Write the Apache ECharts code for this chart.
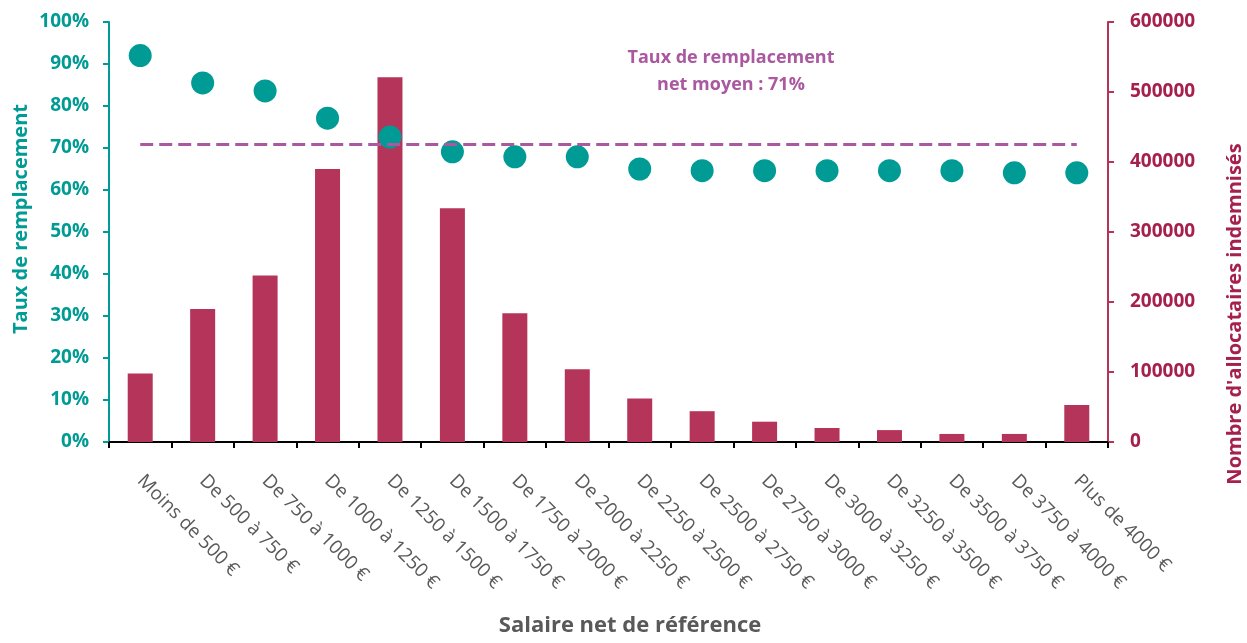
<!DOCTYPE html>
<html>
<head>
<meta charset="utf-8">
<script src="https://cdn.jsdelivr.net/npm/echarts@6/dist/echarts.min.js"></script>
<style>
  html, body { margin: 0; padding: 0; background: #fff; }
  #main { width: 1247px; height: 643px; }
</style>
</head>
<body>
<div id="main"></div>
<script>
var categories = ['Moins de 500 €', 'De 500 à 750 €', 'De 750 à 1000 €', 'De 1000 à 1250 €',
  'De 1250 à 1500 €', 'De 1500 à 1750 €', 'De 1750 à 2000 €', 'De 2000 à 2250 €',
  'De 2250 à 2500 €', 'De 2500 à 2750 €', 'De 2750 à 3000 €', 'De 3000 à 3250 €',
  'De 3250 à 3500 €', 'De 3500 à 3750 €', 'De 3750 à 4000 €', 'Plus de 4000 €'];
var allocataires = [98000, 190000, 238000, 390000, 521000, 334000, 184000, 104000,
  62000, 44000, 29000, 20000, 17000, 11500, 11500, 53000];
var taux = [92.0, 85.5, 83.6, 77.1, 72.6, 69.1, 67.9, 67.9, 65.0, 64.6, 64.6, 64.6, 64.6, 64.6, 64.1, 64.1];
var tauxMoyen = 71;

var teal = '#009b95';
var crimson = '#b5345a';
var crimsonText = '#a6204e';
var purple = '#aa58a0';
var font = 'Open Sans';

var myChart = echarts.init(document.getElementById('main'));

var option = {
  backgroundColor: '#fff',
  textStyle: { fontFamily: font },
  grid: { left: 109, right: 139, top: 22, bottom: 201, containLabel: false, outerBoundsMode: 'none' },
  xAxis: {
    type: 'category',
    data: categories,
    axisLine: { lineStyle: { color: '#000', width: 2 } },
    axisTick: { show: true, length: 6, lineStyle: { color: '#000', width: 2 } },
    axisLabel: { rotate: -45, margin: 36, color: '#595959', fontSize: 19, fontFamily: font, interval: 0 }
  },
  yAxis: [
    {
      type: 'value', min: 0, max: 100, interval: 10,
      splitLine: { show: false },
      axisLine: { show: true, lineStyle: { color: teal, width: 2 } },
      axisTick: { show: true, length: 6, lineStyle: { color: teal, width: 2 } },
      axisLabel: { formatter: '{value}%', color: teal, fontSize: 19, fontWeight: 'bold', margin: 20 }
    },
    {
      type: 'value', min: 0, max: 600000, interval: 100000,
      splitLine: { show: false },
      axisLine: { show: true, lineStyle: { color: crimson, width: 2 } },
      axisTick: { show: true, length: 6, lineStyle: { color: crimson, width: 2 } },
      axisLabel: { formatter: function (v) { return String(v); }, color: crimsonText, fontSize: 19, fontWeight: 'bold', margin: 22 }
    }
  ],
  graphic: [
    {
      type: 'text', x: 21, y: 219, rotation: Math.PI / 2,
      style: {
        text: 'Taux de remplacement', fill: teal,
        font: 'bold 20px ' + font, textAlign: 'center', textVerticalAlign: 'middle'
      }
    },
    {
      type: 'text', x: 1235, y: 314, rotation: Math.PI / 2,
      style: {
        text: "Nombre d'allocataires indemnisés", fill: crimsonText,
        font: 'bold 20px ' + font, textAlign: 'center', textVerticalAlign: 'middle'
      }
    },
    {
      type: 'text', x: 630, y: 626,
      style: {
        text: 'Salaire net de référence', fill: '#595959',
        font: 'bold 22px ' + font, textAlign: 'center', textVerticalAlign: 'middle'
      }
    },
    {
      type: 'text', x: 731, y: 71,
      style: {
        text: 'Taux de remplacement\nnet moyen : 71%', fill: purple,
        font: 'bold 18px ' + font, textAlign: 'center', textVerticalAlign: 'middle', lineHeight: 27
      }
    }
  ],
  series: [
    {
      name: 'Allocataires',
      type: 'bar',
      yAxisIndex: 1,
      barWidth: 25,
      itemStyle: { color: crimson },
      data: allocataires
    },
    {
      name: 'Taux',
      type: 'scatter',
      yAxisIndex: 0,
      symbolSize: 23,
      itemStyle: { color: teal, opacity: 1 },
      data: taux,
      z: 3,
      markLine: {
        symbol: 'none',
        silent: true,
        label: { show: false },
        lineStyle: { color: purple, width: 3, type: [13, 6], opacity: 1 },
        data: [[{ coord: [0, tauxMoyen] }, { coord: [categories.length - 1, tauxMoyen] }]]
      }
    }
  ]
};

myChart.setOption(option);
</script>
</body>
</html>
